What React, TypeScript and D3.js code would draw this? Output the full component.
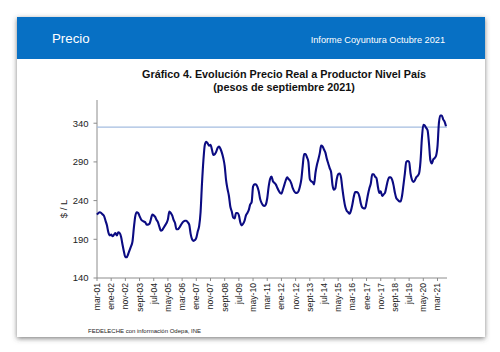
import React, { useRef, useEffect } from 'react';
import * as d3 from 'd3';

// Precio real a productor, $/L (pesos de septiembre 2021), mensual desde mar-01 hasta sept-21
const precio: number[] = [
  222, 224, 225, 224, 222, 220, 214, 208, 199, 195,
  196, 194, 196, 198, 195, 199, 198, 193, 183, 174,
  167, 167, 171, 176, 181, 187, 205, 220, 225, 224,
  220, 216, 214, 213, 212, 209, 209, 210, 216, 222,
  221, 219, 215, 212, 206, 201, 202, 205, 208, 211,
  216, 226, 224, 221, 215, 211, 203, 203, 205, 208,
  211, 213, 214, 214, 212, 209, 197, 190, 188, 189,
  192, 200, 207, 225, 262, 292, 312, 316, 314, 311,
  312, 306, 299, 300, 303, 308, 310, 307, 302, 295,
  285, 266, 255, 246, 232, 226, 218, 217, 224, 224,
  221, 212, 208, 210, 214, 221, 224, 228, 235, 238,
  258, 261, 261, 258, 252, 242, 237, 234, 233, 235,
  243, 258, 268, 271, 265, 263, 261, 257, 253, 250,
  249, 254, 260, 266, 270, 268, 266, 262, 256, 252,
  250, 250, 252, 258, 267, 285, 300, 300, 296, 290,
  268, 265, 264, 261, 276, 286, 293, 301, 311, 310,
  306, 302, 294, 288, 282, 277, 260, 254, 256, 268,
  274, 275, 270, 255, 242, 232, 227, 225, 223, 227,
  235, 245, 251, 251, 250, 245, 236, 231, 230, 230,
  238, 248, 256, 262, 274, 274, 271, 269, 258, 250,
  252, 246, 248, 250, 258, 266, 270, 270, 267, 260,
  250, 243, 241, 239, 239, 246, 260, 275, 290, 291,
  290, 275, 267, 264, 266, 270, 272, 275, 290, 320,
  338, 337, 334, 331, 314, 292, 288, 293, 295, 298,
  310, 340, 350, 350, 345, 342, 336,
];

// etiquetas del eje X, una cada 10 meses
const xTickLabels: string[] = [
  'mar-01', 'ene-02', 'nov-02', 'sept-03', 'jul-04', 'may-05', 'mar-06', 'ene-07',
  'nov-07', 'sept-08', 'jul-09', 'may-10', 'mar-11', 'ene-12', 'nov-12', 'sept-13',
  'jul-14', 'may-15', 'mar-16', 'ene-17', 'nov-17', 'sept-18', 'jul-19', 'may-20', 'mar-21',
];
const xTickStep = 10;

const yTicks: number[] = [140, 190, 240, 290, 340];
const yDomain: [number, number] = [140, 370];
const referencia = 335;

const FONT = '"Liberation Sans", Arial, sans-serif';

export default function App() {
  const svgRef = useRef<SVGSVGElement>(null);

  useEffect(() => {
    if (!svgRef.current) return;
    const W = 500;
    const H = 352;
    const svg = d3.select(svgRef.current).attr('width', W).attr('height', H);
    svg.selectAll('*').remove();

    // sombra de la tarjeta
    const defs = svg.append('defs');
    const filter = defs.append('filter').attr('id', 'shadow')
      .attr('x', '-10%').attr('y', '-10%').attr('width', '120%').attr('height', '120%');
    filter.append('feDropShadow')
      .attr('dx', 0).attr('dy', 1.5).attr('stdDeviation', 2.6)
      .attr('flood-color', '#444').attr('flood-opacity', 0.7);

    svg.append('rect').attr('x', 0).attr('y', 0).attr('width', W).attr('height', H).attr('fill', '#fff');

    const card = { x: 17, y: 17, w: 468, h: 320 };
    svg.append('rect')
      .attr('x', card.x).attr('y', card.y).attr('width', card.w).attr('height', card.h)
      .attr('fill', '#fff').attr('filter', 'url(#shadow)');

    // encabezado azul
    svg.append('rect')
      .attr('x', card.x).attr('y', card.y).attr('width', card.w).attr('height', 42)
      .attr('fill', '#0770c4');
    svg.append('text')
      .attr('x', 52).attr('y', 42.5)
      .attr('font-family', FONT).attr('font-size', 13.3).attr('fill', '#fff')
      .text('Precio');
    svg.append('text')
      .attr('x', 445).attr('y', 42.5).attr('text-anchor', 'end')
      .attr('font-family', FONT).attr('font-size', 9.2).attr('fill', '#fff')
      .text('Informe Coyuntura Octubre 2021');

    // título
    svg.append('text')
      .attr('x', 284).attr('y', 77.5).attr('text-anchor', 'middle')
      .attr('font-family', FONT).attr('font-size', 10.8).attr('font-weight', 'bold').attr('fill', '#111')
      .text('Gráfico 4. Evolución Precio Real a Productor Nivel País');
    svg.append('text')
      .attr('x', 284).attr('y', 91).attr('text-anchor', 'middle')
      .attr('font-family', FONT).attr('font-size', 10.8).attr('font-weight', 'bold').attr('fill', '#111')
      .text('(pesos de septiembre 2021)');

    const margin = { left: 97, right: 447, top: 100, bottom: 278 };
    const n = precio.length;

    const x = d3.scaleLinear().domain([0, n - 1]).range([margin.left, 446]);
    const y = d3.scaleLinear().domain(yDomain).range([margin.bottom, margin.top]);

    const axisColor = '#8c8c8c';

    // ejes
    svg.append('line')
      .attr('x1', margin.left).attr('x2', margin.left)
      .attr('y1', margin.top).attr('y2', margin.bottom)
      .attr('stroke', axisColor).attr('stroke-width', 1);
    svg.append('line')
      .attr('x1', margin.left).attr('x2', margin.right)
      .attr('y1', margin.bottom).attr('y2', margin.bottom)
      .attr('stroke', axisColor).attr('stroke-width', 1);

    yTicks.forEach((t) => {
      svg.append('line')
        .attr('x1', margin.left - 3.5).attr('x2', margin.left)
        .attr('y1', y(t)).attr('y2', y(t))
        .attr('stroke', axisColor);
      svg.append('text')
        .attr('x', 88.5).attr('y', y(t)).attr('dy', '0.35em').attr('text-anchor', 'end')
        .attr('font-family', FONT).attr('font-size', 9.5).attr('fill', '#222')
        .text(t);
    });

    xTickLabels.forEach((label, k) => {
      const xi = x(k * xTickStep);
      svg.append('line')
        .attr('x1', xi).attr('x2', xi)
        .attr('y1', margin.bottom).attr('y2', margin.bottom + 3)
        .attr('stroke', axisColor);
      svg.append('text')
        .attr('transform', `translate(${xi + 3},${margin.bottom + 5}) rotate(-90)`)
        .attr('text-anchor', 'end')
        .attr('font-family', FONT).attr('font-size', 8.6).attr('fill', '#222')
        .text(label);
    });

    // título eje Y
    svg.append('text')
      .attr('transform', `translate(67,209) rotate(-90)`)
      .attr('text-anchor', 'middle')
      .attr('font-family', FONT).attr('font-size', 9.5).attr('fill', '#222')
      .text('$ / L');

    // línea de referencia
    svg.append('line')
      .attr('x1', margin.left).attr('x2', margin.right)
      .attr('y1', y(referencia)).attr('y2', y(referencia))
      .attr('stroke', '#a4bde0').attr('stroke-width', 1.2);

    // serie
    const line = d3.line<number>()
      .x((_, i) => x(i))
      .y((d) => y(d))
      .curve(d3.curveMonotoneX);
    svg.append('path')
      .datum(precio)
      .attr('fill', 'none')
      .attr('stroke', '#0b0b82')
      .attr('stroke-width', 2.1)
      .attr('stroke-linejoin', 'round')
      .attr('d', line);

    // fuente
    svg.append('text')
      .attr('x', 88).attr('y', 332.5)
      .attr('font-family', FONT).attr('font-size', 6).attr('fill', '#222')
      .text('FEDELECHE con información Odepa, INE');
  }, []);

  return (
    <div style={{ position: 'absolute', left: 0, top: 0, width: 500, height: 352 }}>
      <svg ref={svgRef} style={{ display: 'block' }} />
    </div>
  );
}
